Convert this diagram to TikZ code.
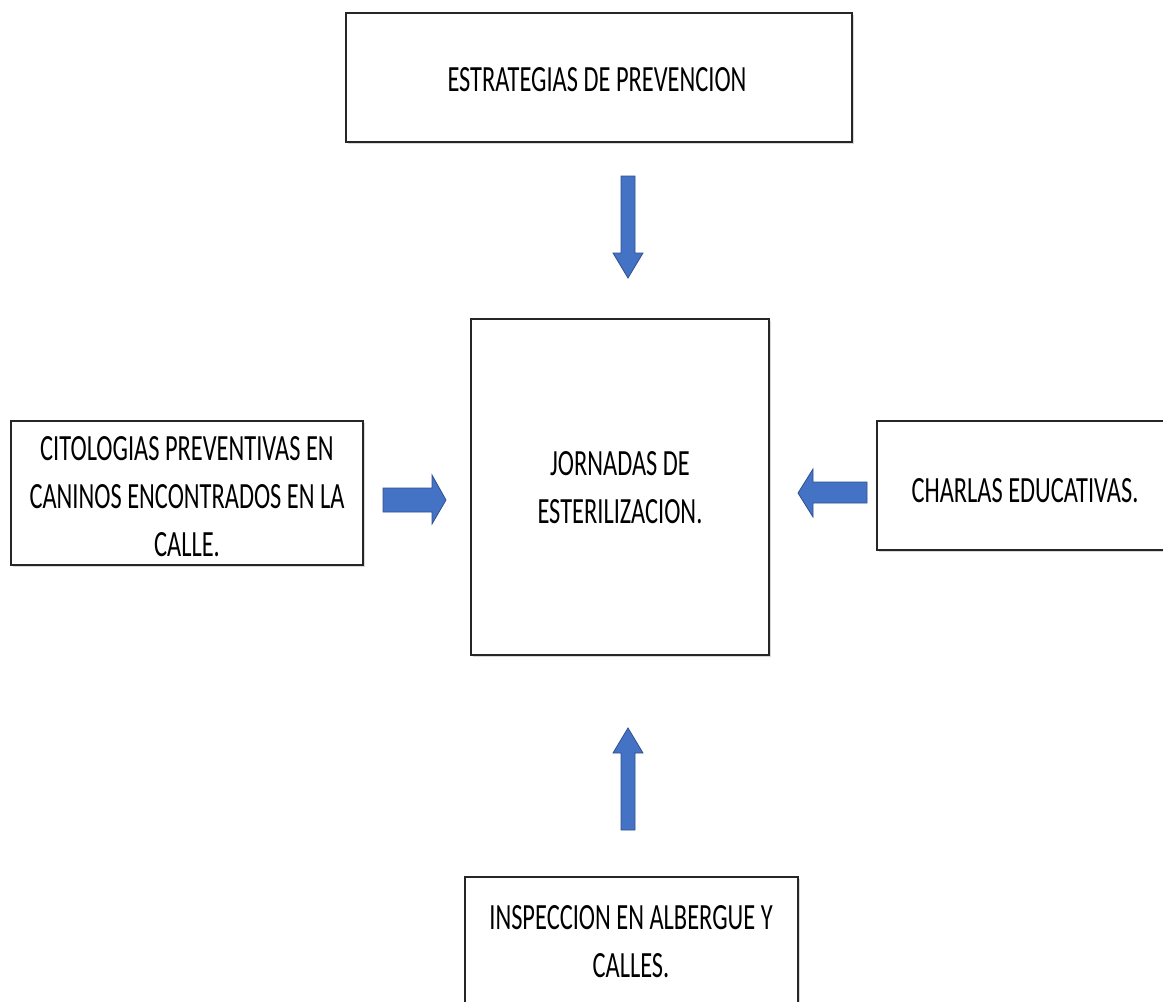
\documentclass[tikz,border=0pt]{standalone}
\usepackage{fontspec}
\setmainfont{Carlito}[FakeStretch=0.66]
\usetikzlibrary{shadows}
\definecolor{arrowblue}{HTML}{4472C4}
\definecolor{arrowedge}{HTML}{2F528F}
\definecolor{boxedge}{HTML}{262626}
\tikzset{
  boxnode/.style={draw=boxedge, line width=1.5pt, fill=white, rectangle, inner sep=0pt,
    drop shadow={shadow xshift=2pt, shadow yshift=-2pt, opacity=0.25, fill=black!60}},
  boxtext/.style={align=center, font=\fontsize{37}{48}\selectfont, text=black},
  blockarrow/.style={fill=arrowblue, draw=arrowedge, line width=0.8pt, line join=miter}
}
\begin{document}
\begin{tikzpicture}[x=1pt,y=-1pt]
\useasboundingbox (0,0) rectangle (1163,1002);
\fill[white] (0,0) rectangle (1163,1002);

% boxes
\node[boxnode, minimum width=506pt, minimum height=129pt] (top) at (599,77.5) {};
\node[boxnode, minimum width=298pt, minimum height=336pt] (center) at (620,487) {};
\node[boxnode, minimum width=352pt, minimum height=144pt] (left) at (187,493) {};
\node[boxnode, minimum width=300pt, minimum height=129pt] (right) at (1027,485.5) {};
\node[boxnode, minimum width=333pt, minimum height=134pt] (bottom) at (631.5,944) {};

% texts
\node[boxtext] (toptext) at (597,80) {ESTRATEGIAS DE PREVENCION};
\node[boxtext] (centertext) at (620,488) {JORNADAS DE\\ESTERILIZACION.};
\node[boxtext] (lefttext) at (187,497) {CITOLOGIAS PREVENTIVAS EN\\CANINOS ENCONTRADOS EN LA\\CALLE.};
\node[boxtext] (righttext) at (1025,491) {CHARLAS EDUCATIVAS.};
\node[boxtext] (bottomtext) at (631,942) {INSPECCION EN ALBERGUE Y\\CALLES.};

% block arrows
% down arrow (top -> center)
\draw[blockarrow] (621,176) -- (635,176) -- (635,253) -- (643,253) -- (628,278) -- (613,253) -- (621,253) -- cycle;
% right arrow (left -> center)
\draw[blockarrow] (383,488) -- (432,488) -- (432,475) -- (446,500) -- (432,524) -- (432,512) -- (383,512) -- cycle;
% left arrow (right -> center)
\draw[blockarrow] (867,482) -- (813,482) -- (813,469) -- (798,493) -- (813,517) -- (813,503) -- (867,503) -- cycle;
% up arrow (bottom -> center)
\draw[blockarrow] (621,830) -- (635,830) -- (635,753) -- (643,753) -- (628,728) -- (613,753) -- (621,753) -- cycle;
\end{tikzpicture}
\end{document}
